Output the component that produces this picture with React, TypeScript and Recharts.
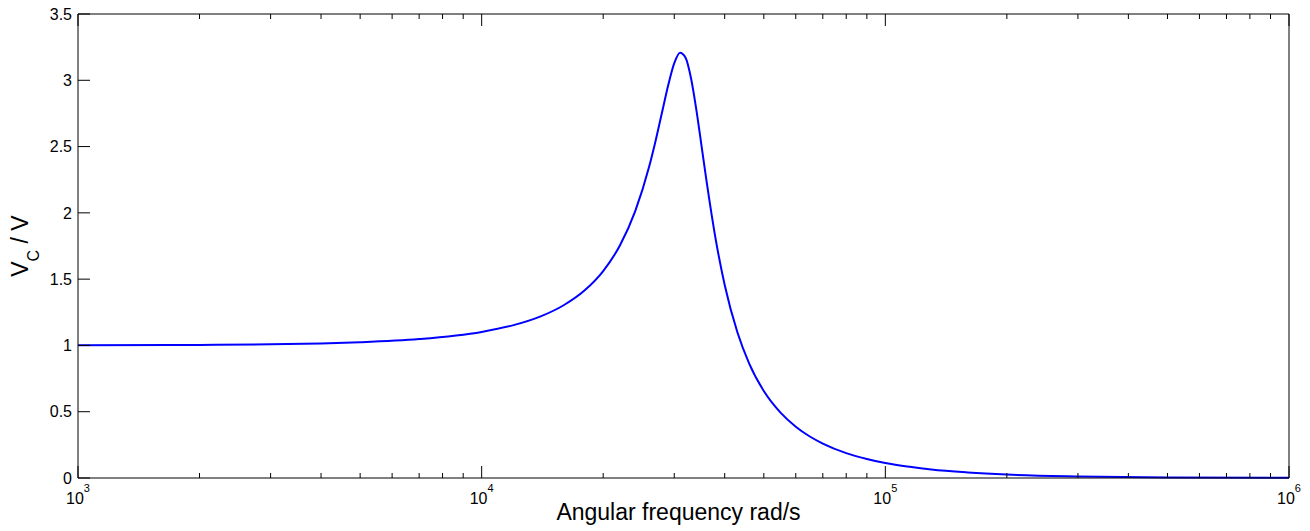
import React from "react";
import { LineChart, Line, XAxis, YAxis, Label } from "recharts";

// Angular frequency (rad/s)
const frequencies = [
  1000, 2000, 3000, 4000, 5000, 7000, 10000, 12000, 14000, 16000, 18000,
  20000, 22000, 24000, 26000, 27000, 28000, 29000, 30000, 31000, 32000,
  33000, 34000, 35000, 36000, 38000, 40000, 43000, 46000, 50000, 55000,
  60000, 65000, 70000, 80000, 90000, 100000, 115000, 130000, 160000, 200000,
  300000, 500000, 1000000,
];
// Capacitor voltage V_C (V)
const voltages = [
  1.001, 1.004, 1.008, 1.015, 1.024, 1.048, 1.102, 1.153, 1.219, 1.305, 1.416,
  1.561, 1.754, 2.011, 2.349, 2.55, 2.762, 2.966, 3.129, 3.208, 3.17,
  3.017, 2.785, 2.519, 2.256, 1.8, 1.456, 1.099, 0.863, 0.656, 0.493,
  0.387, 0.313, 0.26, 0.188, 0.144, 0.113, 0.084, 0.064, 0.042, 0.026,
  0.012, 0.004, 0.001,
];

const majorXTicks = [1000, 10000, 100000, 1000000];
const xTickExponents = ["3", "4", "5", "6"];
const minorMultipliers = [2, 3, 4, 5, 6, 7, 8, 9];
const minorXTicks = [1000, 10000, 100000].flatMap((d) => minorMultipliers.map((m) => d * m));
const allXTicks = [...majorXTicks, ...minorXTicks].sort((a, b) => a - b);

const yTicks = [0, 0.5, 1, 1.5, 2, 2.5, 3, 3.5];
const yTickLabels = ["0", "0.5", "1", "1.5", "2", "2.5", "3", "3.5"];

const xAxisTitle = "Angular frequency rad/s";

const data = frequencies.map((w, i) => ({ w, v: voltages[i] }));

const FONT = '"Liberation Sans", Arial, Helvetica, sans-serif';
const MAJOR_LEN = 12;
const MINOR_LEN = 5;
const TICK_FONT = 16;

const BottomTick = (props: any) => {
  const { x, y, payload } = props;
  const idx = majorXTicks.indexOf(payload.value);
  const major = idx >= 0;
  return (
    <g>
      <line x1={x} x2={x} y1={y} y2={y - (major ? MAJOR_LEN : MINOR_LEN)} stroke="#000" strokeWidth={1} />
      {major && (
        <text x={x} y={y + 26} textAnchor="middle" fontSize={TICK_FONT} fontFamily={FONT} fill="#000">
          10
          <tspan dy={-12} fontSize={11}>{xTickExponents[idx]}</tspan>
        </text>
      )}
    </g>
  );
};

const TopTick = (props: any) => {
  const { x, y, payload } = props;
  const major = majorXTicks.includes(payload.value);
  return <line x1={x} x2={x} y1={y} y2={y + (major ? MAJOR_LEN : MINOR_LEN)} stroke="#000" strokeWidth={1} />;
};

const LeftTick = (props: any) => {
  const { x, y, payload } = props;
  const idx = yTicks.indexOf(payload.value);
  return (
    <g>
      <line x1={x} x2={x + MAJOR_LEN} y1={y} y2={y} stroke="#000" strokeWidth={1} />
      <text x={x - 6} y={y} dy="0.36em" textAnchor="end" fontSize={TICK_FONT} fontFamily={FONT} fill="#000">
        {idx >= 0 ? yTickLabels[idx] : String(payload.value)}
      </text>
    </g>
  );
};

const RightTick = (props: any) => {
  const { x, y } = props;
  return <line x1={x} x2={x - MAJOR_LEN} y1={y} y2={y} stroke="#000" strokeWidth={1} />;
};

const XTitle = (props: any) => {
  const vb = props.viewBox || { x: 70, y: 470, width: 1211, height: 53 };
  return (
    <text x={vb.x + vb.width / 2 - 5} y={vb.y + 42} textAnchor="middle" fontSize={23} fontFamily={FONT} fill="#000">
      {xAxisTitle}
    </text>
  );
};

const YTitle = (props: any) => {
  const vb = props.viewBox || { x: 0, y: 6, width: 70, height: 464 };
  const cx = 20;
  const cy = vb.y + vb.height / 2;
  return (
    <text
      x={cx}
      y={cy}
      transform={`rotate(-90, ${cx}, ${cy})`}
      textAnchor="middle"
      fontSize={23}
      fontFamily={FONT}
      fill="#000"
    >
      V
      <tspan dy={11} fontSize={16}>C</tspan>
      <tspan dy={-11}> / V</tspan>
    </text>
  );
};

export default function App() {
  return (
    <div style={{ width: 1302, height: 523, background: "#fff" }}>
      <style>{`.recharts-surface { overflow: visible !important; }`}</style>
      <LineChart width={1302} height={523} data={data} margin={{ top: 5, right: 20, bottom: 0, left: 0 }}>
        <XAxis
          dataKey="w"
          type="number"
          scale="log"
          domain={[1000, 1000000]}
          allowDataOverflow
          ticks={allXTicks}
          interval={0}
          tickSize={0}
          tickMargin={0}
          tick={<BottomTick />}
          tickLine={false}
          axisLine={{ stroke: "#000", strokeWidth: 1 }}
          height={53}
        >
          <Label content={<XTitle />} />
        </XAxis>
        <XAxis
          xAxisId="top"
          orientation="top"
          dataKey="w"
          type="number"
          scale="log"
          domain={[1000, 1000000]}
          allowDataOverflow
          ticks={allXTicks}
          interval={0}
          tickSize={0}
          tickMargin={0}
          tick={<TopTick />}
          tickLine={false}
          axisLine={{ stroke: "#000", strokeWidth: 1 }}
          height={1}
        />
        <YAxis
          type="number"
          domain={[0, 3.5]}
          ticks={yTicks}
          interval={0}
          tickSize={0}
          tickMargin={0}
          tick={<LeftTick />}
          tickLine={false}
          axisLine={{ stroke: "#000", strokeWidth: 1 }}
          width={70}
        >
          <Label content={<YTitle />} />
        </YAxis>
        <YAxis
          yAxisId="right"
          orientation="right"
          type="number"
          domain={[0, 3.5]}
          ticks={yTicks}
          interval={0}
          tickSize={0}
          tickMargin={0}
          tick={<RightTick />}
          tickLine={false}
          axisLine={{ stroke: "#000", strokeWidth: 1 }}
          width={1}
        />
        <Line
          type="monotone"
          dataKey="v"
          stroke="#0000ff"
          strokeWidth={2}
          dot={false}
          isAnimationActive={false}
        />
      </LineChart>
    </div>
  );
}
